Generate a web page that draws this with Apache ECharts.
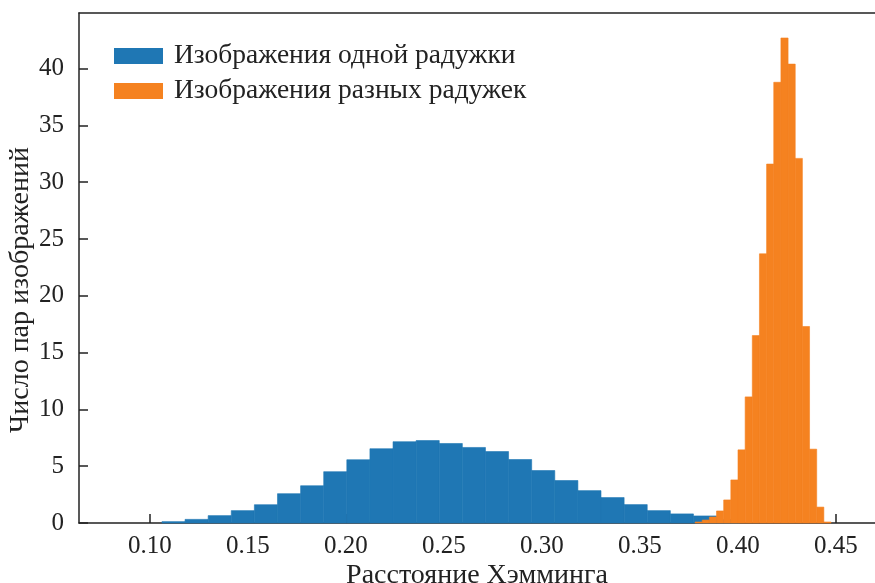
<!DOCTYPE html>
<html>
<head>
<meta charset="utf-8">
<script src="https://cdn.jsdelivr.net/npm/echarts@6/dist/echarts.min.js"></script>
<style>html,body{margin:0;padding:0;background:#fff;}#c{width:875px;height:583px;}</style>
</head>
<body>
<div id="c"></div>
<script>
const xTicks = [0.10, 0.15, 0.20, 0.25, 0.30, 0.35, 0.40, 0.45];
const yTicks = [0, 5, 10, 15, 20, 25, 30, 35, 40];
const seriesNames = ['Изображения одной радужки', 'Изображения разных радужек'];
const blueStart = 0.1061;
const blueWidth = 0.01179;
const blueCounts = [0.12, 0.32, 0.65, 1.09, 1.61, 2.58, 3.28, 4.52, 5.57, 6.54, 7.16, 7.26, 7.0, 6.65, 6.29, 5.59, 4.62, 3.74, 2.85, 2.24, 1.62, 1.09, 0.80, 0.62, 0.3];
const orangeStart = 0.3781;
const orangeWidth = 0.00365;
const orangeCounts = [0.09, 0.26, 0.53, 1.06, 2.03, 3.79, 6.44, 11.1, 16.5, 23.7, 31.6, 38.8, 42.7, 40.4, 32.1, 17.3, 6.5, 1.4, 0.09];

const COLORS = ['#1f77b4', '#f58220'];
const FONT = '"Liberation Serif", "DejaVu Serif", serif';

function bins(start, width, counts) {
  return counts.map((c, i) => [start + i * width, start + (i + 1) * width, c]);
}

function renderer(color) {
  return function (params, api) {
    const p0 = api.coord([api.value(0), api.value(2)]);
    const p1 = api.coord([api.value(1), 0]);
    return {
      type: 'rect',
      shape: { x: p0[0], y: p0[1], width: p1[0] - p0[0], height: p1[1] - p0[1] },
      style: { fill: color, stroke: color, lineWidth: 0.6 }
    };
  };
}

const chart = echarts.init(document.getElementById('c'), null, { renderer: 'canvas' });
const axisLineStyle = { color: '#222', width: 1.5 };
chart.setOption({
  animation: false,
  backgroundColor: '#fff',
  grid: { left: 79, top: 13, right: 0, bottom: 60, containLabel: false, outerBoundsMode: 'none' },
  legend: {
    orient: 'vertical',
    left: 114, top: 42,
    padding: 0,
    itemWidth: 49, itemHeight: 16, itemGap: 7,
    icon: 'rect',
    data: seriesNames,
    textStyle: { fontFamily: FONT, fontSize: 27.5, color: '#222', lineHeight: 16, padding: [0, 0, 0, 6] }
  },
  xAxis: [{
    type: 'value',
    min: 0.06378, max: 0.4699,
    position: 'bottom',
    name: 'Расстояние Хэмминга',
    nameLocation: 'middle',
    nameGap: 39,
    nameMoveOverlap: false,
    nameTextStyle: { fontFamily: FONT, fontSize: 28, color: '#222' },
    axisLine: { show: true, lineStyle: axisLineStyle },
    axisTick: { show: true, inside: true, length: 9, customValues: xTicks, lineStyle: axisLineStyle },
    axisLabel: { show: true, margin: 11, customValues: xTicks, fontFamily: FONT, fontSize: 25, color: '#222',
      formatter: v => v.toFixed(2) },
    splitLine: { show: false }
  }, {
    type: 'value',
    min: 0.06378, max: 0.4699,
    position: 'top',
    axisLine: { show: true, lineStyle: axisLineStyle },
    axisTick: { show: false },
    axisLabel: { show: false },
    splitLine: { show: false }
  }],
  yAxis: {
    type: 'value',
    min: 0, max: 44.9,
    name: 'Число пар изображений',
    nameLocation: 'middle',
    nameGap: 44,
    nameMoveOverlap: false,
    nameTextStyle: { fontFamily: FONT, fontSize: 28, color: '#222', padding: [0, 44, 0, 0] },
    axisLine: { show: true, lineStyle: axisLineStyle },
    axisTick: { show: true, inside: true, length: 9, customValues: yTicks, lineStyle: axisLineStyle },
    axisLabel: { show: true, margin: 15, customValues: yTicks, fontFamily: FONT, fontSize: 25, color: '#222' },
    splitLine: { show: false }
  },
  series: [{
    name: seriesNames[0],
    type: 'custom',
    xAxisIndex: 0,
    renderItem: renderer(COLORS[0]),
    itemStyle: { color: COLORS[0] },
    encode: { x: [0, 1], y: 2 },
    data: bins(blueStart, blueWidth, blueCounts),
    z: 2
  }, {
    name: seriesNames[1],
    type: 'custom',
    xAxisIndex: 0,
    renderItem: renderer(COLORS[1]),
    itemStyle: { color: COLORS[1] },
    encode: { x: [0, 1], y: 2 },
    data: bins(orangeStart, orangeWidth, orangeCounts),
    z: 3
  }]
});
</script>
</body>
</html>
